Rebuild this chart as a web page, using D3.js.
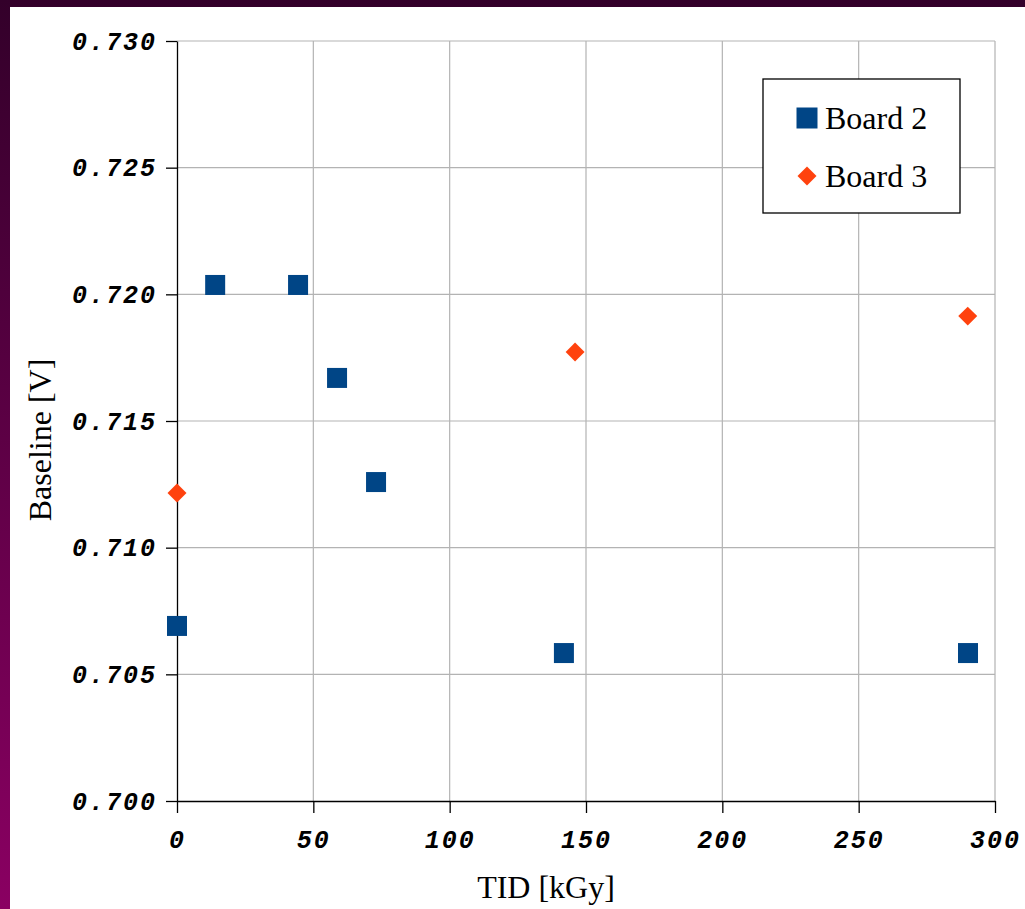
<!DOCTYPE html>
<html>
<head>
<meta charset="utf-8">
<script src="https://cdn.jsdelivr.net/npm/d3@7"></script>
<style>
  html, body { margin: 0; padding: 0; background: #fff; }
  svg { display: block; }
</style>
</head>
<body>
<svg id="chart"></svg>
<script>
// Data
const board2Tid = [0, 14, 44.4, 58.7, 73, 141.9, 290.1];
const board2Base = [0.70691, 0.72037, 0.72037, 0.7167, 0.71259, 0.70584, 0.70584];
const board3Tid = [0, 146, 290];
const board3Base = [0.71216, 0.71772, 0.71914];
const xTicks = [0, 50, 100, 150, 200, 250, 300];
const yTicks = [0.700, 0.705, 0.710, 0.715, 0.720, 0.725, 0.730];
const seriesNames = ['Board 2', 'Board 3'];
const seriesColors = ['#004586', '#ff420e'];

const width = 1025, height = 909;
const margin = { top: 41, right: 30, bottom: 108, left: 177 };

const svg = d3.select('#chart')
  .attr('width', width)
  .attr('height', height);

// Background frame (dark purple gradient on the left and top)
const defs = svg.append('defs');
const grad = defs.append('linearGradient')
  .attr('id', 'frame')
  .attr('x1', 0).attr('y1', 0).attr('x2', 0).attr('y2', 1);
grad.append('stop').attr('offset', '0%').attr('stop-color', '#33002a');
grad.append('stop').attr('offset', '100%').attr('stop-color', '#8a0062');
svg.append('rect')
  .attr('width', width).attr('height', height)
  .attr('fill', 'url(#frame)');
svg.append('rect')
  .attr('x', 10).attr('y', 7)
  .attr('width', width - 10).attr('height', height - 7)
  .attr('fill', '#fff');

const x = d3.scaleLinear()
  .domain([0, 300])
  .range([margin.left, width - margin.right]);

const y = d3.scaleLinear()
  .domain([0.700, 0.730])
  .range([height - margin.bottom, margin.top]);

// Grid
svg.append('g')
  .selectAll('line')
  .data(xTicks.slice(1))
  .join('line')
  .attr('x1', d => x(d)).attr('x2', d => x(d))
  .attr('y1', y(0.730)).attr('y2', y(0.700))
  .attr('stroke', '#b3b3b3').attr('stroke-width', 1.2);

svg.append('g')
  .selectAll('line')
  .data(yTicks.slice(1))
  .join('line')
  .attr('x1', x(0)).attr('x2', x(300))
  .attr('y1', d => y(d)).attr('y2', d => y(d))
  .attr('stroke', '#b3b3b3').attr('stroke-width', 1.2);

const tickFont = '"Liberation Mono", "DejaVu Sans Mono", monospace';

// x axis
const xAxis = svg.append('g')
  .attr('transform', 'translate(0,' + y(0.700) + ')')
  .call(d3.axisBottom(x).tickValues(xTicks).tickSize(12).tickSizeOuter(0).tickPadding(17)
    .tickFormat(d3.format('d')));

// y axis
const yAxis = svg.append('g')
  .attr('transform', 'translate(' + x(0) + ',0)')
  .call(d3.axisLeft(y).tickValues(yTicks).tickSize(11).tickSizeOuter(0).tickPadding(9)
    .tickFormat(d3.format('.3f')));

[xAxis, yAxis].forEach(g => {
  g.select('.domain').attr('stroke', '#000').attr('stroke-width', 1.3);
  g.selectAll('.tick line').attr('stroke', '#000').attr('stroke-width', 1.3);
  g.selectAll('.tick text')
    .attr('fill', '#000')
    .style('font-family', tickFont)
    .style('font-size', '25px')
    .style('font-weight', 'bold')
    .style('font-style', 'italic')
    .style('letter-spacing', '2px');
});
xAxis.selectAll('.tick text').attr('dy', '0.71em');

// Points
svg.append('g')
  .selectAll('rect')
  .data(board2Tid.map((t, i) => ({ t: t, v: board2Base[i] })))
  .join('rect')
  .attr('x', d => x(d.t) - 10)
  .attr('y', d => y(d.v) - 10)
  .attr('width', 20).attr('height', 20)
  .attr('fill', seriesColors[0]);

const diamond = d3.symbol().type(d3.symbolSquare).size(180);
svg.append('g')
  .selectAll('path')
  .data(board3Tid.map((t, i) => ({ t: t, v: board3Base[i] })))
  .join('path')
  .attr('d', diamond)
  .attr('transform', d => 'translate(' + x(d.t) + ',' + y(d.v) + ') rotate(45)')
  .attr('fill', seriesColors[1]);

// Axis titles
const serif = '"Liberation Serif", "DejaVu Serif", serif';
svg.append('text')
  .attr('x', 546)
  .attr('y', 898)
  .attr('text-anchor', 'middle')
  .style('font-family', serif)
  .style('font-size', '32px')
  .text('TID [kGy]');

svg.append('text')
  .attr('transform', 'translate(51,440) rotate(-90)')
  .attr('text-anchor', 'middle')
  .style('font-family', serif)
  .style('font-size', '32px')
  .text('Baseline [V]');

// Legend
const legend = svg.append('g').attr('transform', 'translate(763,79)');
legend.append('rect')
  .attr('width', 197).attr('height', 134)
  .attr('fill', '#fff').attr('stroke', '#000').attr('stroke-width', 1.3);

const item = legend.selectAll('g.item')
  .data(seriesNames)
  .join('g')
  .attr('class', 'item')
  .attr('transform', (d, i) => 'translate(44,' + (39 + i * 58) + ')');

item.append('path')
  .attr('d', (d, i) => i === 0 ? d3.symbol().type(d3.symbolSquare).size(441)() : diamond())
  .attr('transform', (d, i) => i === 0 ? null : 'rotate(45)')
  .attr('fill', (d, i) => seriesColors[i]);

item.append('text')
  .attr('x', 18)
  .attr('y', 11)
  .style('font-family', serif)
  .style('font-size', '32px')
  .text(d => d);
</script>
</body>
</html>
